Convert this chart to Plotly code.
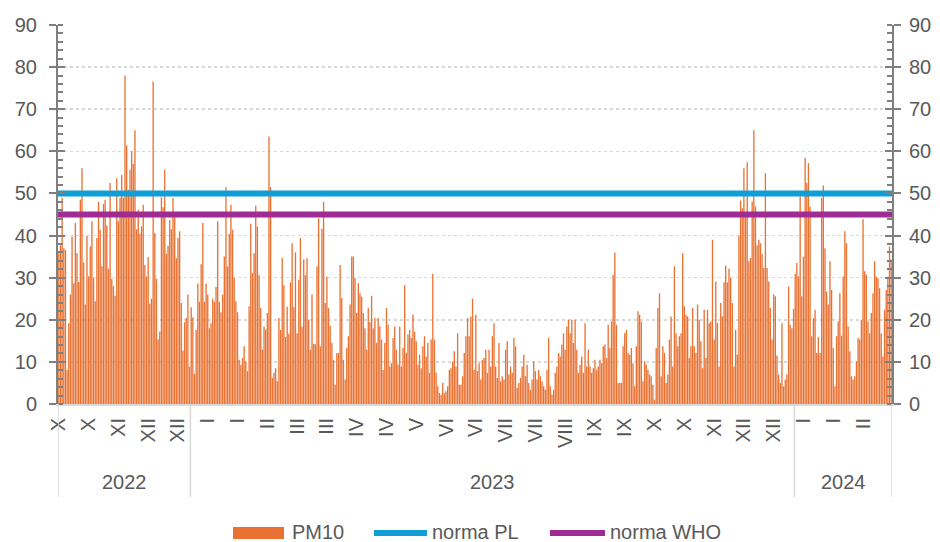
import plotly.graph_objects as go
import pandas as pd

# ---------------- data ----------------
START_DATE = "2022-10-13"   # first daily value

PM10_2022 = [
    35.8, 37.7, 49, 37, 36.6, 8.1, 19.2, 26, 39.8, 28.7,
    43, 35.8, 29, 48.5, 56, 33.6, 23.6, 40, 30.3, 37.4,
    43.4, 30, 24.4, 39.4, 48, 41.4, 32.7, 47.5, 48.5, 42.4,
    32.1, 52.5, 29.7, 28, 25.7, 53.6, 43.4, 49, 54.4, 49,
    78, 61.4, 50.9, 55.6, 60, 57, 65, 41.5, 46.1, 40.4,
    42.2, 47.3, 33, 30.3, 34.9, 23.8, 25, 76.6, 40.6, 29.7,
    15.4, 17.2, 49.1, 46.7, 55.6, 35.7, 37.6, 43.7, 41.5, 48.9,
    44.3, 34.6, 39.4, 41, 24, 12.7, 19.4, 20.4, 26, 8.9,
]
PM10_2023 = [
    23, 20.6, 7.2, 17.6, 28.6, 24.3, 33.2, 43, 24.3, 28.6,
    26, 18, 19.2, 25, 24.3, 27.8, 43.4, 24.3, 21.8, 26,
    35, 51.5, 32.7, 40.4, 47.3, 41.4, 29.9, 24.4, 21.8, 10.5,
    9.3, 10.9, 13.7, 10.1, 7.8, 23.2, 42.8, 31.1, 35.8, 47.1,
    42.2, 30.6, 22.8, 12.9, 18.4, 17.7, 21.6, 63.5, 51.5, 6.2,
    7.4, 8.5, 5.4, 20.4, 17.6, 34.7, 28.2, 15.9, 23.1, 16.6,
    28.9, 38.2, 23, 36, 16.8, 29.5, 39.4, 18.4, 34.4, 30.6,
    34.6, 20, 12.9, 26, 14.3, 14.2, 32.7, 44.1,
    13.7, 41.6, 48, 24, 30.3, 22.8, 18.6, 14.5, 10.5, 4.6,
    12.1, 12.1, 33, 25.2, 10.5, 5.8, 13.3, 16.1, 23.6, 35,
    35, 29.9, 21.6, 28.7, 26.3, 25.5, 21.6, 18, 12.9, 22.8,
    19.4, 25.7, 18, 20.4, 14.5, 20.4, 18.4, 15.3, 8.1, 14.5,
    22.8, 18.8, 8.9, 9.7, 15.7, 18.4, 12.9, 9.3, 18.4, 8.9,
    13.3, 28.2, 12.1, 16.5, 17.6, 15.7, 21.2, 17.2, 14.9, 9.3,
    11.7, 8.5, 13.7, 16.1, 11.3, 14.5, 7.4, 15.3, 30.9, 15.3,
    7.4, 4.2, 2.6, 2.2, 5, 2.6, 3, 4.2, 8.1, 8.5,
    10.1, 12.5, 8.9, 16.8, 4.6, 4.6, 6.6, 12.1, 16.1, 20.4,
    16.1, 20.8, 25, 8.1, 21.2, 7.8, 9.7, 5.8, 10.5, 10.9,
    12.9, 7.4, 12.9, 8.9, 16.1, 19.2, 8.9, 6.2, 14.5, 5.4,
    6.6, 5.8, 12.9, 14.9, 7, 8.9, 7.4, 15.7, 13.7, 3.8,
    5, 6.2, 8.9, 11.7, 6.6, 9.3, 5, 3.4, 5.8, 10.1,
    7.8, 5.8, 8.1, 6.6, 5.4, 4.2, 3.4, 8.1, 15.7, 4.2,
    2.2, 3.4, 7.4, 8.9, 12.1, 11.3, 14.1, 16.8, 12.9, 18.4,
    20, 16.8, 20, 14.5, 20, 12.9, 7.4, 9.3, 11.3, 7.4,
    19.2, 8.9, 12.9, 8.9, 7.4, 8.5, 10.5, 8.1, 8.9, 10.5,
    9.7, 13.7, 14.1, 10.9, 18.8, 13.3, 19.6, 30.7, 36, 18.8,
    5, 5,
    5, 13.7, 16.8, 17.6, 12.1, 11.7, 13.3, 9.7, 4.2, 13.7,
    22, 21.2, 19.6, 5.4, 10.1, 9.3, 8.1, 7, 6.6, 4.6,
    1, 13.3, 22.8, 26.3, 6.6, 13.7, 12.1, 5, 7, 15.3,
    20.8, 8.9, 32.7, 16.8, 13.7, 16.1, 16.8, 35.8, 23.2, 21.2,
    20.8, 10.9, 13.7, 22.8, 13.7, 12.1, 23.6, 20, 14.9, 8.5,
    22.4, 10.9, 22.4, 19.2, 19.6, 39, 15.3, 29.1, 19.2, 8.9,
    24, 20.8, 28.9, 32.9, 28.9, 32.1, 29.9, 24, 8.9, 17.6,
    11.7, 40, 48.3, 46.5, 56, 45.3, 57.4, 33.9, 34.7, 48.1,
    65, 46.9, 37.7, 39, 38.2, 35.6, 32.3, 54.8, 32.3, 29.1,
    22.8, 15.3, 26, 25.6, 11.5, 7, 5, 19.2, 4.2, 5.8,
    7, 27.9, 18.8, 18, 22.6,
]
PM10_2024 = [
    30.9, 33.5, 30.3, 49.3, 25.6, 35, 58.5, 52.5, 57.2, 46.9,
    16.1, 20.4, 22.4, 12.1, 15.9, 12.1, 48.9, 51.9, 37, 26.7,
    23.6, 33.9, 27.1, 13.3, 4.2, 16.1, 19.6, 26.3, 16.2, 30.3,
    41, 38.2, 18.4, 12.5, 6.6, 5.8, 6.6, 10.1, 15.7, 15.3,
    20, 43.9, 31.5, 30.7, 19.6, 16.8, 21.6, 26.3, 33.9, 30.3,
    29.9, 27.5, 16.8, 11.3, 22.4, 27.1, 30.3, 37.4, 34.3,
]
PM10 = PM10_2022 + PM10_2023 + PM10_2024

NORMA_PL = 50
NORMA_WHO = 45

LABEL_STEP = 18   # one month label every 18 days
MONTH_LABELS = ["X", "X", "XI", "XII", "XII",
                "I", "I", "II", "III", "III", "IV", "IV", "V", "VI", "VI",
                "VII", "VII", "VIII", "IX", "IX", "X", "X", "XI", "XII", "XII",
                "I", "I", "II"]
YEARS = ["2022", "2023", "2024"]
SERIES_NAMES = ["PM10", "norma PL", "norma WHO"]

# ---------------- styling ----------------
C_BAR = "#E97132"
C_PL = "#0F9ED5"
C_WHO = "#A02B93"
TXT = "#595959"
AX = "#7F7F7F"
GRID = "#D9D9D9"
FONT = "Liberation Sans, Arial, sans-serif"
FS = 20

W, H = 940, 542
PLOT_L, PLOT_R, PLOT_T, PLOT_B = 58, 892, 25, 404
ML, MR, MT, MB = PLOT_L, W - PLOT_R, PLOT_T, H - PLOT_B
PW, PH = W - ML - MR, H - MT - MB

n = len(PM10)
dates = pd.date_range(START_DATE, periods=n, freq="D")
idx = list(range(n))
tickvals = idx[::LABEL_STEP][:len(MONTH_LABELS)]

fig = go.Figure()
fig.add_trace(go.Bar(x=idx, y=PM10, name=SERIES_NAMES[0],
                     marker=dict(color=C_BAR, line=dict(width=0)),
                     showlegend=False))
x_ext = [-0.5, n - 0.5]
fig.add_trace(go.Scatter(x=x_ext, y=[NORMA_PL] * 2, mode="lines",
                         name=SERIES_NAMES[1], line=dict(color=C_PL, width=6),
                         showlegend=False))
fig.add_trace(go.Scatter(x=x_ext, y=[NORMA_WHO] * 2, mode="lines",
                         name=SERIES_NAMES[2], line=dict(color=C_WHO, width=6),
                         showlegend=False))
# empty traces so that the secondary (tick-only) axes get drawn
for ax in ["y2", "y3", "y4"]:
    fig.add_trace(go.Scatter(x=[None], y=[None], yaxis=ax, mode="lines",
                             showlegend=False, hoverinfo="skip"))

ycommon = dict(range=[0, 90], dtick=10, tick0=0, fixedrange=True,
               automargin=False)

fig.update_layout(
    width=W, height=H,
    margin=dict(l=ML, r=MR, t=MT, b=MB, pad=0, autoexpand=False),
    paper_bgcolor="white", plot_bgcolor="white",
    font=dict(family=FONT, size=FS, color=TXT),
    bargap=0.2,
    showlegend=False,
    xaxis=dict(
        range=[-0.5, n - 0.5], automargin=False, fixedrange=True,
        tickmode="array", tickvals=tickvals, ticktext=MONTH_LABELS,
        tickangle=-90, ticks="", showgrid=False, zeroline=False,
        showline=True, linecolor=GRID, linewidth=2,
        ticklabelstandoff=4,
        tickfont=dict(size=FS, color=TXT),
    ),
    yaxis=dict(
        **ycommon, side="left",
        showline=True, linecolor=AX, linewidth=2,
        ticks="outside", ticklen=7, tickwidth=2, tickcolor=AX,
        minor=dict(ticks="inside", ticklen=5, tickwidth=2, tickcolor=AX,
                   dtick=2, showgrid=False),
        showgrid=True, gridcolor=GRID, gridwidth=1.5, griddash="dot",
        zeroline=False, ticklabelstandoff=8,
    ),
    yaxis2=dict(
        **ycommon, side="right", overlaying="y", anchor="x",
        showline=True, linecolor=AX, linewidth=2,
        ticks="outside", ticklen=7, tickwidth=2, tickcolor=AX,
        minor=dict(ticks="inside", ticklen=5, tickwidth=2, tickcolor=AX,
                   dtick=2, showgrid=False),
        showgrid=False, zeroline=False, ticklabelstandoff=4,
    ),
    yaxis3=dict(
        **ycommon, side="left", overlaying="y", anchor="x",
        ticks="inside", ticklen=7, tickwidth=2, tickcolor=AX,
        showticklabels=False, showgrid=False, showline=False, zeroline=False,
    ),
    yaxis4=dict(
        **ycommon, side="right", overlaying="y", anchor="x",
        ticks="inside", ticklen=7, tickwidth=2, tickcolor=AX,
        showticklabels=False, showgrid=False, showline=False, zeroline=False,
    ),
)

# year groups under the axis (multi-level category axis)
years_of = list(dates.year)
groups = []
start = 0
for i in range(1, n + 1):
    if i == n or years_of[i] != years_of[start]:
        groups.append((start, i - 1))
        start = i


def px2x(px):          # page pixel -> paper x
    return (px - PLOT_L) / PW


def py2y(py):          # page pixel -> paper y
    return (PLOT_B - py) / PH


sep_bottom = py2y(497)
year_y = py2y(482)
bounds = [g[0] - 0.5 for g in groups] + [groups[-1][1] + 0.5]
for b in bounds:
    fig.add_shape(type="line", xref="x", yref="paper", x0=b, x1=b,
                  y0=0, y1=sep_bottom, line=dict(color=GRID, width=1.5))
for (a, b), yr in zip(groups, YEARS):
    fig.add_annotation(x=(a + b) / 2, y=year_y, xref="x", yref="paper",
                       text=yr, showarrow=False, yanchor="middle",
                       font=dict(size=FS, color=TXT))

# custom legend (Excel style keys)
leg_y = 531.5
fig.add_shape(type="rect", xref="paper", yref="paper",
              x0=px2x(233), x1=px2x(284), y0=py2y(527), y1=py2y(539),
              fillcolor=C_BAR, line=dict(width=0))
fig.add_annotation(x=px2x(290), y=py2y(leg_y), xref="paper", yref="paper",
                   text=SERIES_NAMES[0], showarrow=False, xanchor="left",
                   yanchor="middle", font=dict(size=FS, color=TXT))
fig.add_shape(type="line", xref="paper", yref="paper",
              x0=px2x(374), x1=px2x(427), y0=py2y(533), y1=py2y(533),
              line=dict(color=C_PL, width=6))
fig.add_annotation(x=px2x(430), y=py2y(leg_y), xref="paper", yref="paper",
                   text=SERIES_NAMES[1], showarrow=False, xanchor="left",
                   yanchor="middle", font=dict(size=FS, color=TXT))
fig.add_shape(type="line", xref="paper", yref="paper",
              x0=px2x(550), x1=px2x(605), y0=py2y(533), y1=py2y(533),
              line=dict(color=C_WHO, width=6))
fig.add_annotation(x=px2x(608), y=py2y(leg_y), xref="paper", yref="paper",
                   text=SERIES_NAMES[2], showarrow=False, xanchor="left",
                   yanchor="middle", font=dict(size=FS, color=TXT))

fig.write_html(
    "out.html",
    config={"displayModeBar": False, "staticPlot": True},
    post_script="document.body.style.margin='0';"
                "document.body.style.overflow='hidden';",
)
